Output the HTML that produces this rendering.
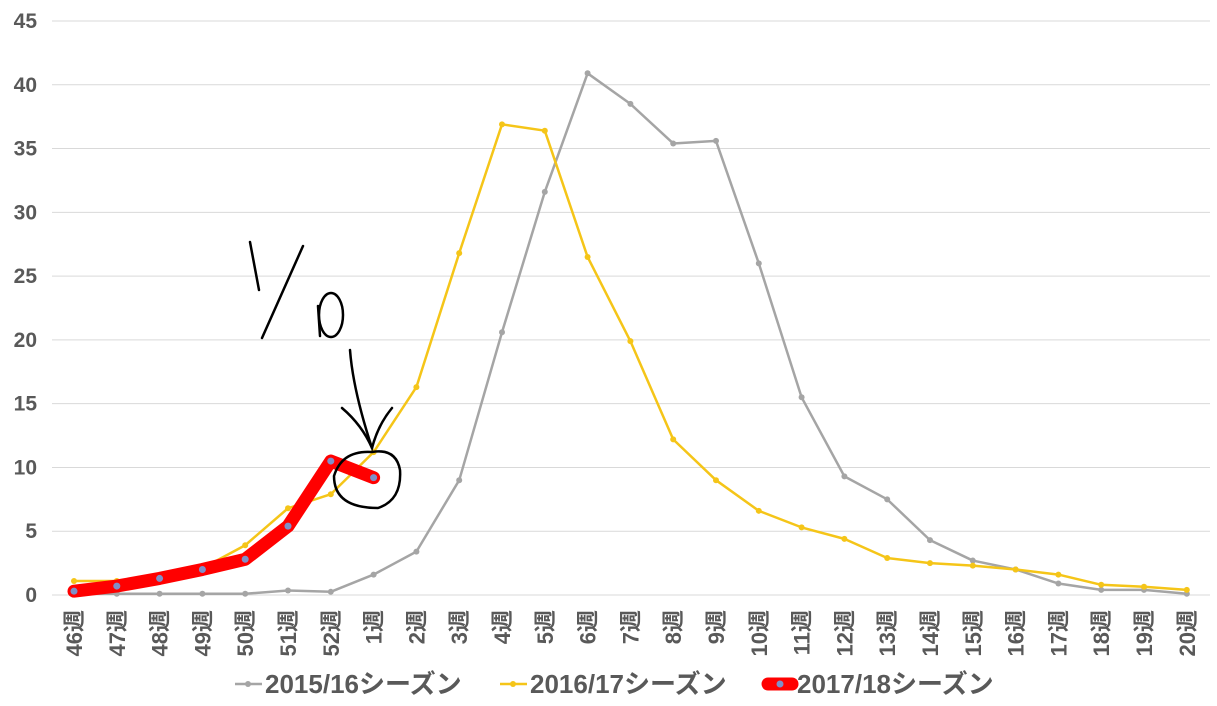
<!DOCTYPE html>
<html><head><meta charset="utf-8"><style>body{margin:0;background:#fff}svg{display:block}text{font-family:"Liberation Sans","Noto Sans CJK JP",sans-serif;font-weight:bold;fill:#595959}</style></head>
<body>
<svg id="s" width="1217" height="706" xmlns="http://www.w3.org/2000/svg"></svg>
<script>
const s=document.getElementById('s');let h='';
const Y=v=>595-v*(574/45), X=i=>74+i*42.8;
for(let v=0;v<=45;v+=5){h+=`<line x1="52" x2="1210" y1="${Y(v)}" y2="${Y(v)}" stroke="#d9d9d9" stroke-width="1"/>`;h+=`<text x="37" y="${Y(v)+7}" text-anchor="end" font-size="21">${v}</text>`;}
const cats=[46,47,48,49,50,51,52];for(let i=1;i<=20;i++)cats.push(i);
cats.forEach((c,i)=>{h+=`<text transform="translate(${X(i)+8},610) rotate(-90)" text-anchor="end" font-size="22">${c}週</text>`;});
const g=[0.1,0.1,0.1,0.1,0.1,0.35,0.25,1.6,3.4,9.0,20.6,31.6,40.9,38.5,35.4,35.6,26.0,15.5,9.3,7.5,4.3,2.7,2.0,0.9,0.4,0.4,0.1];
const y=[1.1,1.1,1.4,2.1,3.9,6.8,7.9,11.2,16.3,26.8,36.9,36.4,26.5,19.9,12.2,9.0,6.6,5.3,4.4,2.9,2.5,2.3,2.0,1.6,0.8,0.65,0.4];
const r=[0.3,0.7,1.3,2.0,2.8,5.4,10.5,9.2];
function ser(d,c,w,mc,mr){h+=`<polyline fill="none" stroke="${c}" stroke-width="${w}" stroke-linejoin="round" stroke-linecap="round" points="${d.map((v,i)=>X(i)+','+Y(v)).join(' ')}"/>`;d.forEach((v,i)=>h+=`<circle cx="${X(i)}" cy="${Y(v)}" r="${mr}" fill="${mc}"/>`);}
ser(g,'#a5a5a5',2.5,'#a5a5a5',3);ser(y,'#f5c518',2.5,'#f5c518',3);ser(r,'#ff0000',13,'#7f8fc8',3.5);
h+=`<line x1="235" x2="262" y1="684" y2="684" stroke="#a5a5a5" stroke-width="2.5"/><circle cx="248" cy="684" r="3" fill="#a5a5a5"/><text x="265" y="693" font-size="26">2015/16シーズン</text>`;
h+=`<line x1="500" x2="527" y1="684" y2="684" stroke="#f5c518" stroke-width="2.5"/><circle cx="513" cy="684" r="3" fill="#f5c518"/><text x="530" y="693" font-size="26">2016/17シーズン</text>`;
h+=`<line x1="768" x2="792" y1="684" y2="684" stroke="#ff0000" stroke-width="13" stroke-linecap="round"/><circle cx="780" cy="684" r="3.5" fill="#7f8fc8"/><text x="797" y="693" font-size="26">2017/18シーズン</text>`;
h+=`<g fill="none" stroke="#000" stroke-width="2.5" stroke-linecap="round">
<path d="M250 242 L259 290"/><path d="M303 246 L262 338"/>
<path d="M318 306 L320 336"/><ellipse cx="331" cy="315" rx="12" ry="22"/>
<path d="M350 350 Q353 390 372 448"/><path d="M342 408 Q362 425 372 448 Q378 425 392 408"/>
<path d="M372 452 Q342 450 334 476 Q334 508 378 508 Q402 500 400 470 Q396 448 372 452"/></g>`;
s.innerHTML=h;
</script>
</body></html>
